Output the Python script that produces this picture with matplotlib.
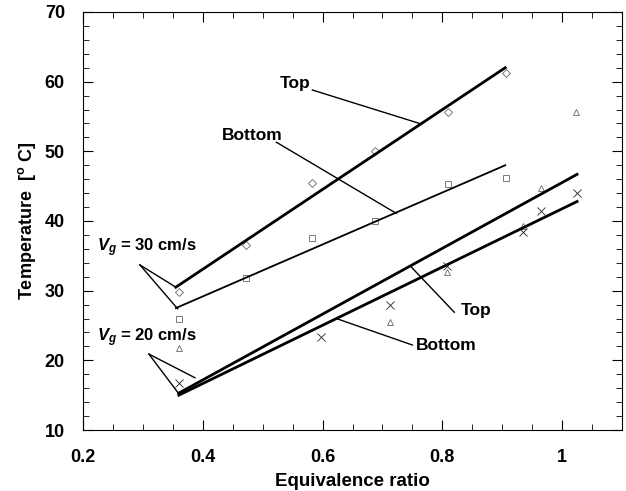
import matplotlib
matplotlib.use("Agg")
import matplotlib.pyplot as plt
from matplotlib.ticker import MultipleLocator

plt.rcParams['font.family'] = ['Liberation Sans', 'DejaVu Sans']
plt.rcParams['font.weight'] = 'bold'
plt.rcParams['mathtext.fontset'] = 'custom'
plt.rcParams['mathtext.rm'] = 'Liberation Sans:bold'
plt.rcParams['mathtext.it'] = 'Liberation Sans:italic:bold'
plt.rcParams['mathtext.bf'] = 'Liberation Sans:bold'

# Vg = 30 cm/s, top (diamonds)
top30_x = [0.36, 0.472, 0.583, 0.687, 0.81, 0.907]
top30_y = [29.8, 36.6, 45.4, 50.1, 55.6, 61.2]
# Vg = 30 cm/s, bottom (squares)
bot30_x = [0.36, 0.472, 0.583, 0.688, 0.81, 0.907]
bot30_y = [26.0, 31.8, 37.6, 40.0, 45.3, 46.2]
# Vg = 20 cm/s, triangles
tri20_x = [0.36, 0.713, 0.808, 0.935, 0.965, 1.023]
tri20_y = [21.8, 25.5, 32.7, 39.3, 44.8, 55.7]
# Vg = 20 cm/s, crosses
crs20_x = [0.36, 0.597, 0.713, 0.808, 0.935, 0.965, 1.025]
crs20_y = [16.8, 23.4, 28.0, 33.5, 38.4, 41.5, 44.0]

# fitted lines (end points)
fit_top30_x = [0.355, 0.905]
fit_top30_y = [30.5, 62.0]
fit_bot30_x = [0.355, 0.905]
fit_bot30_y = [27.5, 48.0]
fit_top20_x = [0.36, 1.025]
fit_top20_y = [15.3, 46.7]
fit_bot20_x = [0.36, 1.025]
fit_bot20_y = [15.0, 42.8]

fig = plt.figure(figsize=(6.26, 4.91), dpi=100)
ax = fig.add_axes([0.1326, 0.1242, 0.8610, 0.8514])

mk = dict(linestyle='none', color='#666666', markersize=4.2, markeredgewidth=0.6,
          markerfacecolor='none')
ax.plot(top30_x, top30_y, marker='D', **{**mk, 'markersize': 3.8})
ax.plot(bot30_x, bot30_y, marker='s', **mk)
ax.plot(tri20_x, tri20_y, marker='^', **mk)
ax.plot(crs20_x, crs20_y, marker='x', **{**mk, 'color': '#222222', 'markersize': 5.5})

ax.plot(fit_top30_x, fit_top30_y, color='black', lw=2.0)
ax.plot(fit_bot30_x, fit_bot30_y, color='black', lw=1.3)
ax.plot(fit_top20_x, fit_top20_y, color='black', lw=2.0)
ax.plot(fit_bot20_x, fit_bot20_y, color='black', lw=2.0)

ax.set_xlim(0.2, 1.1)
ax.set_ylim(10, 70)
ax.xaxis.set_major_locator(MultipleLocator(0.2))
ax.xaxis.set_minor_locator(MultipleLocator(0.05))
ax.yaxis.set_major_locator(MultipleLocator(10))
ax.yaxis.set_minor_locator(MultipleLocator(2))
ax.set_xticks([0.2, 0.4, 0.6, 0.8, 1.0])
ax.set_xticklabels(['0.2', '0.4', '0.6', '0.8', '1'])
ax.tick_params(which='both', direction='in', top=True, right=True, labelsize=13)
ax.tick_params(which='major', length=7, width=0.8)
ax.tick_params(which='minor', length=4, width=0.6)
ax.tick_params(axis='x', pad=14)
ax.tick_params(axis='y', pad=13)
for s in ax.spines.values():
    s.set_linewidth(0.8)

ax.set_xlabel('Equivalence ratio', fontsize=13.5, fontweight='bold', labelpad=5)
ax.set_ylabel(r'Temperature  [$^{\rm o}$ C]', fontsize=13, fontweight='bold', labelpad=5)

fs = 12.5
lw = 1.0
ax.text(0.555, 59.7, 'Top', fontsize=fs, fontweight='bold', ha='center', va='center')
ax.plot([0.583, 0.762], [58.8, 54.0], color='black', lw=lw)
ax.text(0.482, 52.2, 'Bottom', fontsize=fs, fontweight='bold', ha='center', va='center')
ax.plot([0.523, 0.723], [51.3, 41.1], color='black', lw=lw)

ax.text(0.223, 36.1, r'$V_g$ = 30 cm/s', fontsize=12, fontweight='bold', ha='left', va='center')
ax.plot([0.295, 0.355], [33.7, 30.5], color='black', lw=lw)
ax.plot([0.295, 0.358], [33.7, 27.4], color='black', lw=lw)

ax.text(0.223, 23.2, r'$V_g$ = 20 cm/s', fontsize=12, fontweight='bold', ha='left', va='center')
ax.plot([0.31, 0.387], [20.9, 17.5], color='black', lw=lw)
ax.plot([0.31, 0.36], [20.9, 15.2], color='black', lw=lw)

ax.text(0.857, 27.2, 'Top', fontsize=fs, fontweight='bold', ha='center', va='center')
ax.plot([0.82, 0.747], [26.9, 33.5], color='black', lw=lw)
ax.text(0.807, 22.2, 'Bottom', fontsize=fs, fontweight='bold', ha='center', va='center')
ax.plot([0.75, 0.623], [22.2, 26.0], color='black', lw=lw)

fig.savefig('out.png', dpi=100)
